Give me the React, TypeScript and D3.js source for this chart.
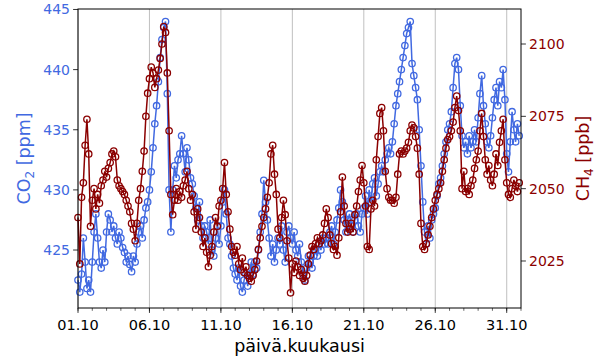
import React from "react";
import * as d3 from "d3";

// 3-hourly readings, 1 Oct 00:00 -> 31 Oct 21:00
const co2: number[] = [
  // Oct 1
  422.5, 421.5, 423.0, 426.0, 424.0, 421.8, 422.5, 421.5,
  // Oct 2
  424.0, 426.5, 428.0, 426.0, 424.0, 423.5, 425.0, 424.0,
  // Oct 3
  426.5, 428.0, 427.5, 426.5, 427.0, 426.0, 425.5, 426.5,
  // Oct 4
  426.0, 425.2, 424.8, 424.0, 424.5, 423.8, 423.2, 424.5,
  // Oct 5
  424.0, 425.5, 426.5, 427.0, 426.0, 427.5, 428.5, 429.0,
  // Oct 6
  430.0, 431.5, 433.5, 435.5, 437.0, 439.0, 441.0, 442.5,
  // Oct 7
  443.5, 444.0, 438.0, 430.0, 426.5, 430.0, 432.0, 431.0,
  // Oct 8
  432.5, 433.0, 434.5, 433.0, 431.5, 433.5, 432.5, 431.0,
  // Oct 9
  430.5, 429.5, 428.5, 427.5, 429.0, 427.0, 426.0, 427.0,
  // Oct 10
  426.5, 425.5, 427.5, 425.0, 424.5, 426.0, 427.0, 425.5,
  // Oct 11
  427.0, 429.0, 430.0, 428.0, 426.0, 425.5, 424.5, 423.5,
  // Oct 12
  423.0, 422.5, 423.5, 422.0, 421.5, 422.5, 423.0, 422.0,
  // Oct 13
  423.0, 424.0, 423.0, 424.0, 423.5, 425.0, 426.5, 428.0,
  // Oct 14
  430.8, 429.0, 427.5, 426.0, 424.5, 425.5, 424.0, 425.0,
  // Oct 15
  426.0, 425.5, 427.0, 425.0, 424.0, 426.5, 427.0, 426.0,
  // Oct 16
  425.5, 426.5, 425.0, 424.5, 425.5, 424.0, 423.0, 422.5,
  // Oct 17
  423.5, 424.5, 424.0, 423.5, 424.5, 425.0, 424.5, 425.5,
  // Oct 18
  425.0, 426.0, 425.5, 426.0, 425.5, 426.5, 427.0, 425.5,
  // Oct 19
  426.5, 427.5, 428.5, 430.0, 429.0, 427.5, 426.5, 427.5,
  // Oct 20
  428.0, 427.0, 426.5, 427.5, 428.0, 427.0, 426.5, 428.0,
  // Oct 21
  428.5, 429.5, 428.0, 430.0, 429.0, 430.5, 431.0, 429.5,
  // Oct 22
  430.5, 431.5, 432.0, 431.5, 432.5, 433.0, 433.5, 433.0,
  // Oct 23
  434.0, 435.5, 437.0, 438.0, 439.0, 440.0, 441.0, 442.0,
  // Oct 24
  443.0, 443.5, 444.0, 440.5, 439.5, 438.5, 437.5, 435.0,
  // Oct 25
  432.0, 429.0, 426.5, 425.5, 427.0, 426.0, 427.5, 428.0,
  // Oct 26
  428.5, 429.5, 430.5, 431.0, 432.0, 433.0, 434.0, 435.0,
  // Oct 27
  435.5, 436.5, 438.5, 440.5, 441.0, 440.0, 437.0, 434.5,
  // Oct 28
  433.5, 434.0, 433.0, 434.5, 433.5, 434.0, 435.0, 434.0,
  // Oct 29
  436.0, 438.0, 439.5, 437.0, 435.5, 434.0, 433.5, 434.5,
  // Oct 30
  436.0, 437.5, 438.5, 437.0, 439.0, 438.5, 440.0, 437.5,
  // Oct 31
  433.0, 431.5, 434.0, 436.5, 435.0, 434.0, 435.5, 434.5,
];

const ch4: number[] = [
  // Oct 1
  2040, 2024, 2047, 2052, 2065, 2074, 2062, 2037,
  // Oct 2
  2046, 2050, 2043, 2048, 2045, 2051, 2053, 2056,
  // Oct 3
  2054, 2057, 2059, 2062, 2063, 2061, 2053, 2051,
  // Oct 4
  2050, 2049, 2048, 2046, 2044, 2042, 2038, 2036,
  // Oct 5
  2032, 2038, 2046, 2050, 2056, 2063, 2075, 2083,
  // Oct 6
  2088, 2092, 2090, 2085, 2088, 2091, 2095, 2100,
  // Oct 7
  2106, 2104, 2090, 2070, 2048, 2041, 2046, 2050,
  // Oct 8
  2046, 2049, 2047, 2051, 2053, 2056, 2050, 2046,
  // Oct 9
  2048, 2042, 2036, 2043, 2040, 2035, 2030, 2033,
  // Oct 10
  2028, 2023, 2027, 2030, 2035, 2040, 2037, 2044,
  // Oct 11
  2046, 2050, 2059, 2048, 2042, 2036, 2030, 2028,
  // Oct 12
  2027, 2030, 2024, 2022, 2026, 2021, 2023, 2020,
  // Oct 13
  2019, 2018, 2020, 2022, 2025, 2029, 2033, 2037,
  // Oct 14
  2040, 2043, 2047, 2052, 2062, 2065, 2055, 2048,
  // Oct 15
  2036, 2033, 2040, 2046, 2041, 2032, 2026, 2014,
  // Oct 16
  2024, 2021, 2025, 2023, 2020, 2022, 2019, 2018,
  // Oct 17
  2020, 2024, 2027, 2030, 2029, 2031, 2033, 2031,
  // Oct 18
  2032, 2034, 2038, 2043, 2040, 2034, 2031, 2029,
  // Oct 19
  2030, 2027, 2033, 2042, 2054, 2044, 2038, 2035,
  // Oct 20
  2036, 2038, 2035, 2041, 2044, 2049, 2053, 2058,
  // Oct 21
  2052, 2044, 2030, 2029, 2043, 2046, 2044, 2060,
  // Oct 22
  2068, 2076, 2078, 2070, 2056, 2050, 2047, 2046,
  // Oct 23
  2046, 2045, 2047, 2055, 2062, 2063, 2062, 2063,
  // Oct 24
  2064, 2066, 2070, 2072, 2071, 2068, 2064, 2055,
  // Oct 25
  2038, 2030, 2029, 2031, 2034, 2037, 2040, 2043,
  // Oct 26
  2046, 2048, 2050, 2052, 2056, 2060, 2064, 2067,
  // Oct 27
  2068, 2070, 2073, 2078, 2082, 2077, 2070, 2050,
  // Oct 28
  2056, 2049, 2050, 2048, 2051, 2053, 2057, 2060,
  // Oct 29
  2063, 2070, 2076, 2068, 2060, 2055, 2058, 2053,
  // Oct 30
  2051, 2055, 2062, 2058, 2066, 2070, 2074, 2060,
  // Oct 31
  2052, 2048, 2047, 2050, 2053, 2051, 2049, 2052,
];

const co2Ticks = [425, 430, 435, 440, 445];
const ch4Ticks = [2025, 2050, 2075, 2100];
const xTickDays = [1, 6, 11, 16, 21, 26, 31];

const START = new Date(2023, 9, 1, 0, 0);
const END = new Date(2023, 10, 1, 0, 0);
const STEP_HOURS = 3;

const BLUE = "#4169E1";
const RED = "#8B0000";
const FONT = "DejaVu Sans, sans-serif";

const W = 600;
const H = 360;
const L = 78;
const R = 521;
const T = 9;
const B = 308;

export default function App() {
  const times = co2.map((_, i) => new Date(START.getTime() + i * STEP_HOURS * 3600 * 1000));
  const x = d3.scaleTime().domain([START, END]).range([L, R]);
  const yL = d3.scaleLinear().domain([420.18, 445.04]).range([B, T]);
  const yR = d3.scaleLinear().domain([2008.75, 2112.1]).range([B, T]);

  const lineCO2 = d3
    .line<number>()
    .x((_, i) => x(times[i]))
    .y((d) => yL(d));
  const lineCH4 = d3
    .line<number>()
    .x((_, i) => x(times[i]))
    .y((d) => yR(d));

  const majorTicks = xTickDays.map((d) => new Date(2023, 9, d));
  const minorTicks = d3.timeDay.range(START, d3.timeDay.offset(END, 1)).filter((d) => d <= END);
  const fmt = d3.timeFormat("%d.%m");

  return (
    <svg width={W} height={H} style={{ display: "block", position: "absolute", left: 0, top: 0 }} fontFamily={FONT}>
      <rect x={0} y={0} width={W} height={H} fill="#fff" />
      {/* grid */}
      {majorTicks.map((d, i) => (
        <line key={"g" + i} x1={x(d)} x2={x(d)} y1={T} y2={B} stroke="#b0b0b0" strokeWidth={0.8} />
      ))}
      {/* CO2 series */}
      <path d={lineCO2(co2) || ""} fill="none" stroke={BLUE} strokeWidth={1.5} />
      {co2.map((v, i) => (
        <circle key={"c" + i} cx={x(times[i])} cy={yL(v)} r={3.2} fill="none" stroke={BLUE} strokeWidth={1.3} />
      ))}
      {/* CH4 series */}
      <path d={lineCH4(ch4) || ""} fill="none" stroke={RED} strokeWidth={1.5} />
      {ch4.map((v, i) => (
        <circle key={"m" + i} cx={x(times[i])} cy={yR(v)} r={3.2} fill="none" stroke={RED} strokeWidth={1.3} />
      ))}
      {/* frame */}
      <rect x={L} y={T} width={R - L} height={B - T} fill="none" stroke="#000" strokeWidth={1} />
      {/* x minor ticks */}
      {minorTicks.map((d, i) => (
        <line key={"mn" + i} x1={x(d)} x2={x(d)} y1={B} y2={B + 2.8} stroke="#000" strokeWidth={0.6} />
      ))}
      {majorTicks.map((d, i) => (
        <g key={"xt" + i}>
          <line x1={x(d)} x2={x(d)} y1={B} y2={B + 4.9} stroke="#000" strokeWidth={0.8} />
          <text x={x(d)} y={B + 22} textAnchor="middle" fontSize={14.5} fill="#000">
            {fmt(d)}
          </text>
        </g>
      ))}
      <text x={(L + R) / 2} y={352} textAnchor="middle" fontSize={17.5} fill="#000">
        päivä.kuukausi
      </text>
      {/* left axis */}
      {co2Ticks.map((t) => (
        <g key={"yl" + t}>
          <line x1={L - 4.9} x2={L} y1={yL(t)} y2={yL(t)} stroke="#000" strokeWidth={0.8} />
          <text x={L - 8} y={yL(t) + 5} textAnchor="end" fontSize={14} fill={BLUE}>
            {t}
          </text>
        </g>
      ))}
      <text transform={`translate(30,${(T + B) / 2}) rotate(-90)`} textAnchor="middle" fontSize={17.5} fill={BLUE}>
        CO<tspan fontSize={12} dy={4}>2</tspan>
        <tspan dy={-4}> [ppm]</tspan>
      </text>
      {/* right axis */}
      {ch4Ticks.map((t) => (
        <g key={"yr" + t}>
          <line x1={R} x2={R + 4.9} y1={yR(t)} y2={yR(t)} stroke="#000" strokeWidth={0.8} />
          <text x={R + 8} y={yR(t) + 5} textAnchor="start" fontSize={14} fill={RED}>
            {t}
          </text>
        </g>
      ))}
      <text transform={`translate(589,${(T + B) / 2}) rotate(-90)`} textAnchor="middle" fontSize={17.5} fill={RED}>
        CH<tspan fontSize={12} dy={4}>4</tspan>
        <tspan dy={-4}> [ppb]</tspan>
      </text>
    </svg>
  );
}
